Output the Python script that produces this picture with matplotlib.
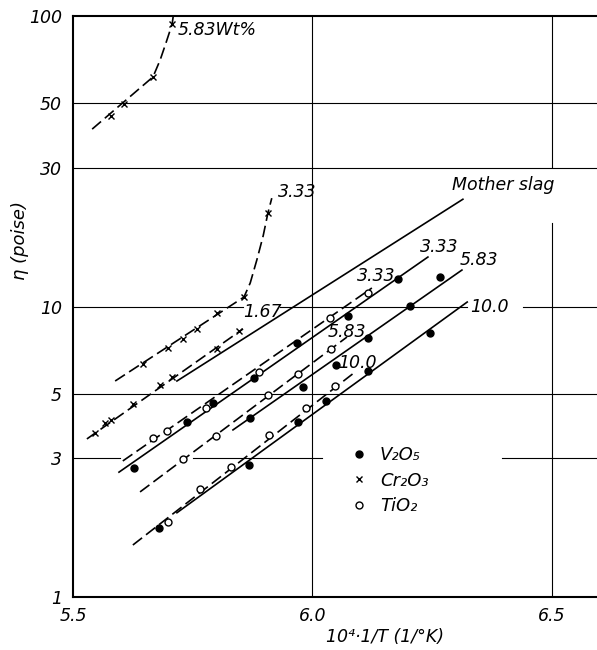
import matplotlib
matplotlib.use("Agg")
import matplotlib.pyplot as plt
from matplotlib.lines import Line2D
import numpy as np

plt.rcParams['font.family'] = ['DejaVu Sans']
plt.rcParams['font.style'] = 'italic'

# ---------------- data ----------------
# Mother slag (solid line)
mother_x = [5.717, 6.314]
mother_y = [5.54, 23.4]

# V2O5 (filled circles) lines and points
v333_line_x = [5.596, 6.241]; v333_line_y = [2.69, 14.8]
v333_x = [5.627, 5.738, 5.792, 5.878, 5.968, 6.074, 6.178]
v333_y = [2.78, 4.00, 4.65, 5.67, 7.49, 9.28, 12.43]

v583_line_x = [5.834, 6.312]; v583_line_y = [3.76, 13.35]
v583_x = [5.870, 5.980, 6.049, 6.116, 6.204, 6.266]
v583_y = [4.13, 5.28, 6.29, 7.79, 10.04, 12.64]

v100_line_x = [5.717, 6.323]; v100_line_y = [1.95, 10.36]
v100_x = [5.680, 5.867, 5.970, 6.028, 6.116, 6.245]
v100_y = [1.73, 2.85, 4.00, 4.73, 6.00, 8.11]

# TiO2 (open circles) lines and points
t333_line_x = [5.604, 6.124]; t333_line_y = [2.94, 11.58]
t333_x = [5.667, 5.696, 5.778, 5.888, 6.037, 6.116]
t333_y = [3.53, 3.73, 4.47, 5.95, 9.13, 11.13]

t583_line_x = [5.640, 6.072]; t583_line_y = [2.30, 7.85]
t583_x = [5.730, 5.799, 5.907, 5.970, 6.039]
t583_y = [2.99, 3.58, 4.96, 5.86, 7.14]

t100_line_x = [5.625, 6.089]; t100_line_y = [1.51, 5.95]
t100_x = [5.698, 5.765, 5.830, 5.909, 5.986, 6.047]
t100_y = [1.81, 2.35, 2.80, 3.61, 4.47, 5.33]

# Cr2O3 (crosses) lines and points
c167_line_x = [5.529, 5.855]; c167_line_y = [3.50, 8.37]
c167_x = [5.546, 5.567, 5.579, 5.625, 5.682, 5.707, 5.801, 5.847]
c167_y = [3.67, 3.97, 4.07, 4.62, 5.37, 5.72, 7.14, 8.24]

c333_line_x = [5.588, 5.857, 5.870, 5.884, 5.897, 5.907, 5.915]
c333_line_y = [5.54, 10.78, 12.05, 14.5, 17.5, 21.0, 23.6]
c333_x = [5.646, 5.698, 5.730, 5.759, 5.801, 5.857, 5.907]
c333_y = [6.34, 7.20, 7.73, 8.37, 9.50, 10.78, 21.0]

c583_line_x = [5.540, 5.667, 5.682, 5.694, 5.707, 5.711]
c583_line_y = [40.8, 61.7, 70.6, 80.7, 93.8, 104.9]
c583_x = [5.579, 5.606, 5.667, 5.707]
c583_y = [45.3, 49.8, 61.7, 93.8]

# labels (text, x, y)
curve_labels = [
    ("5.83Wt%", 5.719, 89.5),
    ("3.33", 5.928, 24.8),
    ("1.67", 5.855, 9.57),
    ("Mother slag", 6.291, 26.2),
    ("3.33", 6.224, 16.0),
    ("5.83", 6.308, 14.5),
    ("10.0", 6.329, 9.96),
    ("3.33", 6.093, 12.7),
    ("5.83", 6.032, 8.17),
    ("10.0", 6.053, 6.39),
]

xticks = [5.5, 6.0, 6.5]
xticklabels = ["5.5", "6.0", "6.5"]
yticks = [1, 3, 5, 10, 30, 50, 100]
yticklabels = ["1", "3", "5", "10", "30", "50", "100"]

legend_labels = ["V₂O₅", "Cr₂O₃", "TiO₂"]

# ---------------- figure ----------------
fig = plt.figure(figsize=(5.97, 6.5), dpi=100)
ax = fig.add_axes([73/597, 53/650, 524/597, 581/650])
ax.set_yscale('log')
ax.set_xlim(5.5, 6.594)
ax.set_ylim(1, 100)

# grid lines (partially broken as in the original)
gkw = dict(color='black', lw=0.8, zorder=1)
ax.axhline(50, **gkw)
ax.axhline(30, **gkw)
ax.axhline(5, **gkw)
ax.axhline(10, xmin=0.0, xmax=0.324, **gkw)
ax.axhline(10, xmin=0.395, xmax=0.752, **gkw)
ax.axhline(10, xmin=0.859, xmax=1.0, **gkw)
ax.axhline(3, xmin=0.0, xmax=0.09, **gkw)
ax.axhline(3, xmin=0.229, xmax=0.475, **gkw)
ax.axhline(3, xmin=0.819, xmax=1.0, **gkw)
ax.axvline(6.0, **gkw)
ax.axvline(6.5, ymin=0.74, ymax=1.0, **gkw)
ax.axvline(6.5, ymin=0.0, ymax=0.644, **gkw)

lw = 1.2
dash = (7, 3)
# mother slag
ax.plot(mother_x, mother_y, color='black', lw=lw, zorder=3)

# V2O5 lines (solid)
for lx, ly in [(v333_line_x, v333_line_y), (v583_line_x, v583_line_y), (v100_line_x, v100_line_y)]:
    ax.plot(lx, ly, color='black', lw=lw, zorder=3)
# TiO2 lines (dashed)
for lx, ly in [(t333_line_x, t333_line_y), (t583_line_x, t583_line_y), (t100_line_x, t100_line_y)]:
    ax.plot(lx, ly, color='black', lw=lw, dashes=dash, zorder=3)
# Cr2O3 lines (dashed)
for lx, ly in [(c167_line_x, c167_line_y), (c333_line_x, c333_line_y), (c583_line_x, c583_line_y)]:
    ax.plot(lx, ly, color='black', lw=lw, dashes=dash, zorder=3)

# markers
for px, py in [(v333_x, v333_y), (v583_x, v583_y), (v100_x, v100_y)]:
    ax.plot(px, py, ls='none', marker='o', ms=5, mfc='black', mec='black', zorder=5)
for px, py in [(t333_x, t333_y), (t583_x, t583_y), (t100_x, t100_y)]:
    ax.plot(px, py, ls='none', marker='o', ms=5, mfc='white', mec='black', mew=1.0, zorder=5)
for px, py in [(c167_x, c167_y), (c333_x, c333_y), (c583_x, c583_y)]:
    ax.plot(px, py, ls='none', marker='x', ms=4.5, mec='black', mew=1.0, zorder=5)

for txt, x, y in curve_labels:
    ax.text(x, y, txt, fontsize=12.5, style='italic', ha='left', va='center', zorder=6)

# axes styling
for s in ['left', 'bottom', 'top']:
    ax.spines[s].set_linewidth(1.5)
ax.spines['right'].set_visible(False)
ax.set_xticks(xticks)
ax.set_xticklabels(xticklabels)
ax.set_yticks(yticks)
ax.set_yticklabels(yticklabels)
ax.yaxis.set_minor_locator(matplotlib.ticker.NullLocator())
ax.tick_params(axis='both', length=0, labelsize=12.5)
ax.tick_params(axis='y', pad=8)
ax.tick_params(axis='x', pad=7)
for lab in ax.get_xticklabels() + ax.get_yticklabels():
    lab.set_style('italic')

# legend
handles = [
    Line2D([], [], ls='none', marker='o', ms=5, mfc='black', mec='black'),
    Line2D([], [], ls='none', marker='x', ms=4.5, mec='black', mew=1.0),
    Line2D([], [], ls='none', marker='o', ms=5, mfc='white', mec='black'),
]
leg = ax.legend(handles, legend_labels, loc='upper left',
                bbox_to_anchor=((352 - 73) / 524, (597 - 446) / 581),
                frameon=False, fontsize=13, handlelength=0.8, handletextpad=0.75,
                labelspacing=0.42, borderaxespad=0, borderpad=0)
for t in leg.get_texts():
    t.set_style('italic')

fig.text(20/597, 1 - 240/650, "η (poise)", rotation=90, ha='center', va='center',
         fontsize=13, style='italic')
fig.text(385/597, 1 - 637/650, "10⁴·1/T (1/°K)", ha='center', va='center',
         fontsize=12.5, style='italic')

fig.savefig("out.png", dpi=100)
